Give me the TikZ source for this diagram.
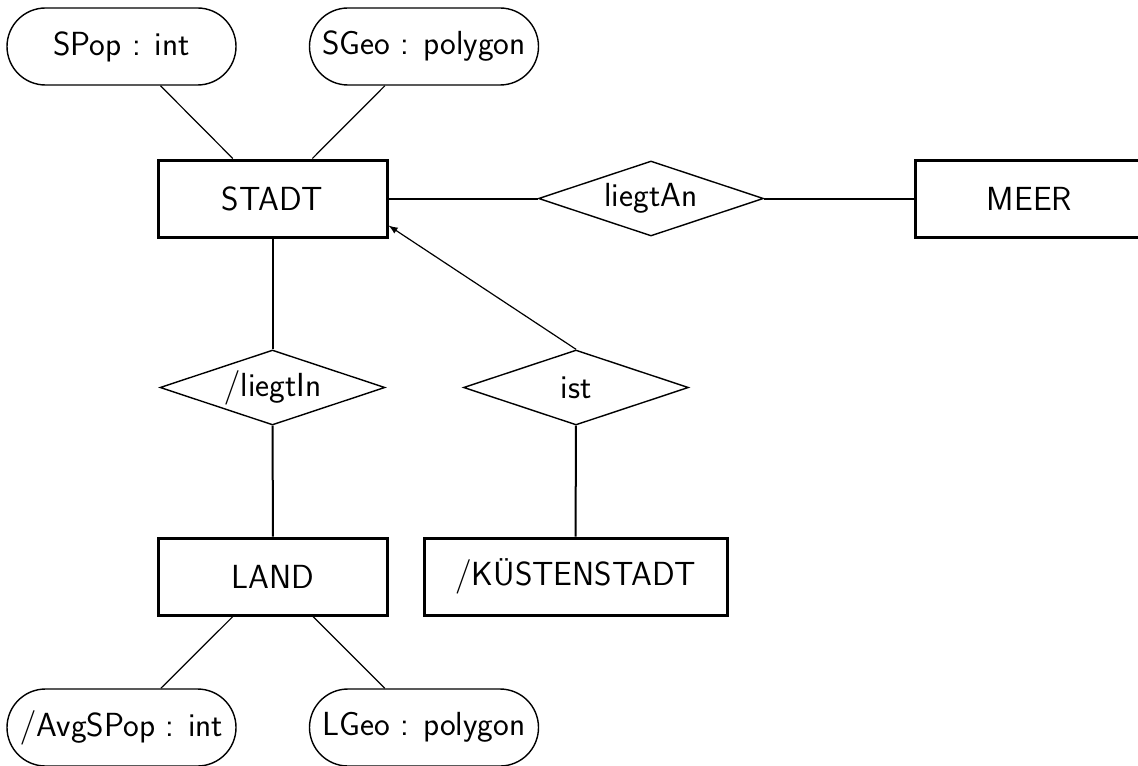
\documentclass[tikz,border=0pt]{standalone}
\usepackage{amsmath}
\usepackage{tikz}
\usetikzlibrary{arrows, shapes.geometric, shapes.misc}

\begin{document}
\begin{tikzpicture}[x=0.5pt, y=-0.5pt, font=\fontsize{16.7}{20}\selectfont\sffamily,
  entity/.style={draw, rectangle, line width=1.5pt, minimum width=114.5pt, minimum height=38.5pt, inner sep=0pt},
  rel/.style={draw, diamond, aspect=3, line width=0.7pt, minimum width=112.5pt, minimum height=37.5pt, inner sep=0pt},
  attr/.style={draw, rounded rectangle, line width=0.7pt, minimum width=114.5pt, minimum height=38.5pt, inner sep=0pt},
  link/.style={line width=1pt}]
\useasboundingbox (0,0) rectangle (1138,765);
\clip (0,0) rectangle (1138,765);
% attributes
\node[attr](spop) at (121.5,46.5){SPop : int};
\node[attr](sgeo) at (424,46.5){SGeo : polygon};
\node[attr](avg) at (121.5,727.5){$/$AvgSPop : int};
\node[attr](lgeo) at (424,727.5){LGeo : polygon};
% entities
\node[entity](stadt) at (272.5,198.5){STADT};
\node[entity](meer) at (1029.5,198.5){MEER};
\node[entity](land) at (273,576.5){LAND};
\node[entity, minimum width=151.5pt](kueste) at (575.5,576.5){$/$KÜSTENSTADT};
% relationships
\node[rel](liegtan) at (651,198.5){liegtAn};
\node[rel](liegtin) at (272.5,387.5){$/$liegtIn};
\node[rel](ist) at (576,387.5){ist};
% links
\draw[line width=0.6pt] (spop) -- (stadt);
\draw[line width=0.6pt] (sgeo) -- (stadt);
\draw[line width=0.6pt] (land) -- (avg);
\draw[line width=0.6pt] (land) -- (lgeo);
\draw[link] (stadt) -- (liegtan);
\draw[link] (liegtan) -- (meer);
\draw[link] (stadt) -- (liegtin);
\draw[link] (liegtin) -- (land);
\draw[link] (ist) -- (kueste);
\draw[line width=0.6pt, -latex] (ist.north) -- ([yshift=-13.5pt]stadt.east);
\end{tikzpicture}
\end{document}
